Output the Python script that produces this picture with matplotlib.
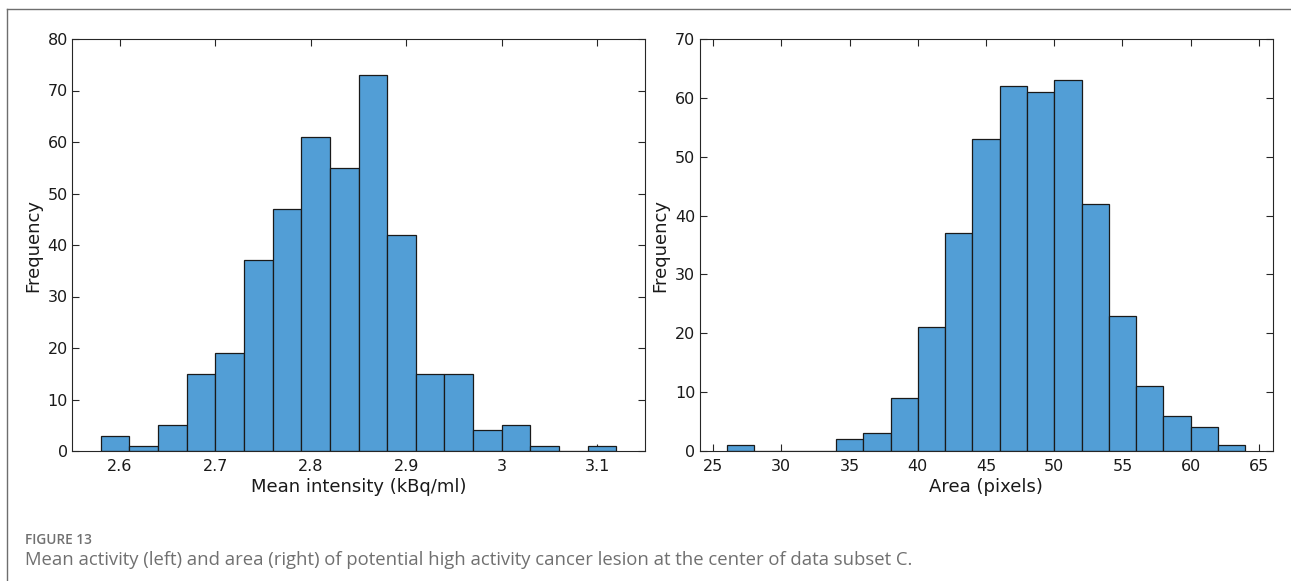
import numpy as np
import matplotlib
matplotlib.use("Agg")
import matplotlib.pyplot as plt
from matplotlib.lines import Line2D

# Mean intensity histogram (kBq/ml): bins of width 0.03 starting at 2.58
intensity_start = 2.58
intensity_width = 0.03
intensity_counts = [3, 1, 5, 15, 19, 37, 47, 61, 55, 73, 42, 15, 15, 4, 5, 1, 0, 1]
intensity_ticks = [2.6, 2.7, 2.8, 2.9, 3.0, 3.1]
intensity_ticklabels = ["2.6", "2.7", "2.8", "2.9", "3", "3.1"]

# Area histogram (pixels): bins of width 2 starting at 26
area_start = 26
area_width = 2
area_counts = [1, 0, 0, 0, 2, 3, 9, 21, 37, 53, 62, 61, 63, 42, 23, 11, 6, 4, 1]
area_ticks = [25, 30, 35, 40, 45, 50, 55, 60, 65]

bar_color = "#529ed6"
axis_color = "#262626"
text_color = "#1a1a1a"
label_font = dict(family="DejaVu Sans", fontsize=13, color=text_color)

fig = plt.figure(figsize=(12.91, 5.81), dpi=100)
W, H = 1291, 581


def style_axes(ax):
    for s in ax.spines.values():
        s.set_color(axis_color)
        s.set_linewidth(0.8)
    ax.tick_params(direction="in", length=5, width=0.8, color=axis_color,
                   top=True, right=True, labelsize=11.5, labelcolor=text_color)
    ax.tick_params(axis="x", pad=5.5)
    ax.tick_params(axis="y", pad=3)
    for lab in ax.get_xticklabels() + ax.get_yticklabels():
        lab.set_fontfamily("DejaVu Sans")


def draw_hist(ax, start, width, counts):
    edges = start + width * np.arange(len(counts) + 1)
    ax.bar(edges[:-1], counts, width=width, align="edge", color=bar_color,
           edgecolor="#1a1a1a", linewidth=0.9, zorder=2)


# Left panel
ax1 = fig.add_axes([72 / W, 1 - 451 / H, 573 / W, 412 / H])
draw_hist(ax1, intensity_start, intensity_width, intensity_counts)
ax1.set_xlim(2.55, 3.15)
ax1.set_ylim(0, 80)
ax1.set_xticks(intensity_ticks)
ax1.set_xticklabels(intensity_ticklabels)
ax1.set_yticks(np.arange(0, 81, 10))
style_axes(ax1)
ax1.set_xlabel("Mean intensity (kBq/ml)", labelpad=3.5, **label_font)
ax1.set_ylabel("Frequency", labelpad=4, **label_font)

# Right panel
ax2 = fig.add_axes([699.5 / W, 1 - 451 / H, 573 / W, 412 / H])
draw_hist(ax2, area_start, area_width, area_counts)
ax2.set_xlim(24, 66)
ax2.set_ylim(0, 70)
ax2.set_xticks(area_ticks)
ax2.set_yticks(np.arange(0, 71, 10))
style_axes(ax2)
ax2.set_xlabel("Area (pixels)", labelpad=3.5, **label_font)
ax2.set_ylabel("Frequency", labelpad=4, **label_font)

# Page frame (top and left rules)
frame_color = "#6e6e6e"
fig.add_artist(Line2D([6.5 / W, 1.0], [1 - 8.5 / H, 1 - 8.5 / H],
                      transform=fig.transFigure, color=frame_color, linewidth=1.0))
fig.add_artist(Line2D([6.5 / W, 6.5 / W], [0.0, 1 - 8.5 / H],
                      transform=fig.transFigure, color=frame_color, linewidth=1.0))

# Caption
fig.text(25 / W, 1 - 540 / H, "FIGURE 13", fontsize=9.8, fontweight="semibold",
         family="Open Sans", color="#707070", va="center", ha="left")
fig.text(25 / W, 1 - 560 / H,
         "Mean activity (left) and area (right) of potential high activity cancer "
         "lesion at the center of data subset C.",
         fontsize=13.3, family="Open Sans", color="#707070", va="center", ha="left")

fig.savefig("out.png", dpi=100, facecolor="white")
